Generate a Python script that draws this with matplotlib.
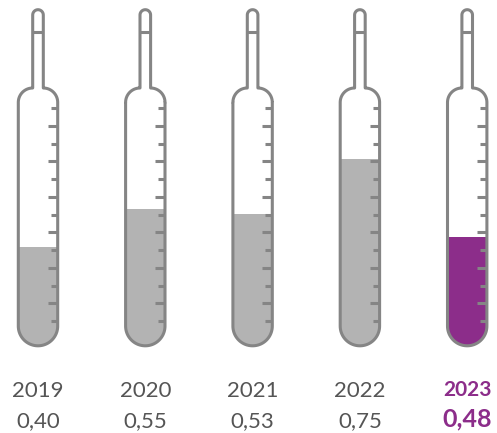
import numpy as np
import matplotlib
matplotlib.use("Agg")
import matplotlib.pyplot as plt
from matplotlib.path import Path
from matplotlib.patches import PathPatch

# data
years = ["2019", "2020", "2021", "2022", "2023"]
value_labels = ["0,40", "0,55", "0,53", "0,75", "0,48"]
fill_levels = [0.40, 0.55, 0.53, 0.75, 0.44]   # fill heights as drawn
highlight = [False, False, False, False, True]

GREY_LINE = "#858585"
GREY_FILL = "#b3b3b3"
PURPLE = "#8c2d8a"
TEXT = "#555555"

plt.rcParams['font.family'] = ['Lato', 'DejaVu Sans']

fig = plt.figure(figsize=(4.97, 4.33), dpi=100)
ax = fig.add_axes([0, 0, 1, 1])
ax.set_xlim(0, 497)
ax.set_ylim(0, 433)
ax.axis("off")

# tube geometry (pixel-like units, y up)
x0, step = 38, 107.3
hw, sw = 19.7, 5.3          # body / stem half widths
y_bot = 87.2                # line centre at the bottom
y_body_top = 330.6
y_stem_top = 418.0
y_cap = 401.0
base = 85.5                 # value 0
scale = 251.0               # pixels per unit value
ticks_y = 433 - np.linspace(108, 321, 13)


def tube_path(cx):
    pts = []
    # left wall down from shoulder
    pts.append((cx - hw, y_body_top))
    pts.append((cx - hw, y_bot + hw))
    a = np.linspace(np.pi, 2 * np.pi, 40)
    pts += list(zip(cx + hw * np.cos(a), y_bot + hw + hw * np.sin(a)))
    pts.append((cx + hw, y_body_top))
    rs = hw - sw
    a = np.linspace(0, np.pi / 2, 20)
    pts += list(zip(cx + sw + rs * np.cos(a), y_body_top + rs * np.sin(a)))
    pts.append((cx + sw, y_stem_top))
    a = np.linspace(0, np.pi, 20)
    pts += list(zip(cx + sw * np.cos(a), y_stem_top + sw * np.sin(a)))
    pts.append((cx - sw, y_body_top + rs))
    a = np.linspace(np.pi / 2, np.pi, 20)
    pts += list(zip(cx - sw + rs * np.cos(a), y_body_top + rs * np.sin(a)))
    pts.append(pts[0])
    return Path(np.array(pts), closed=True)


for i, (yr, lab, lvl, hl) in enumerate(zip(years, value_labels, fill_levels, highlight)):
    cx = x0 + step * i
    path = tube_path(cx)
    clip = PathPatch(path, facecolor="none", edgecolor="none")
    ax.add_patch(clip)
    bars = ax.bar(cx, lvl * scale, bottom=base, width=2 * hw + 4,
                  color=PURPLE if hl else GREY_FILL, zorder=1)
    for b in bars:
        b.set_clip_path(clip)

    # ticks on the right wall
    for k, ty in enumerate(ticks_y):
        ln = 10 if k % 2 == 1 else 7
        ax.plot([cx + hw - ln, cx + hw], [ty, ty], color=GREY_LINE,
                lw=2.2, solid_capstyle="butt", zorder=2)
    # cap line in the stem
    ax.plot([cx - sw, cx + sw], [y_cap, y_cap], color=GREY_LINE, lw=2.2,
            solid_capstyle="butt", zorder=2)

    ax.add_patch(PathPatch(path, facecolor="none", edgecolor=GREY_LINE,
                           lw=2.2, joinstyle="round", zorder=3))

    if hl:
        ax.text(cx, 37, yr, ha="center", va="baseline", fontsize=15,
                fontweight="bold", color=PURPLE)
        ax.text(cx, 6.5, lab, ha="center", va="baseline", fontsize=18,
                fontweight="bold", color=PURPLE)
    else:
        ax.text(cx, 36, yr, ha="center", va="baseline", fontsize=16,
                fontweight="normal", color=TEXT)
        ax.text(cx, 6, lab, ha="center", va="baseline", fontsize=16,
                fontweight="normal", color=TEXT)

fig.savefig("out.png", dpi=100)
